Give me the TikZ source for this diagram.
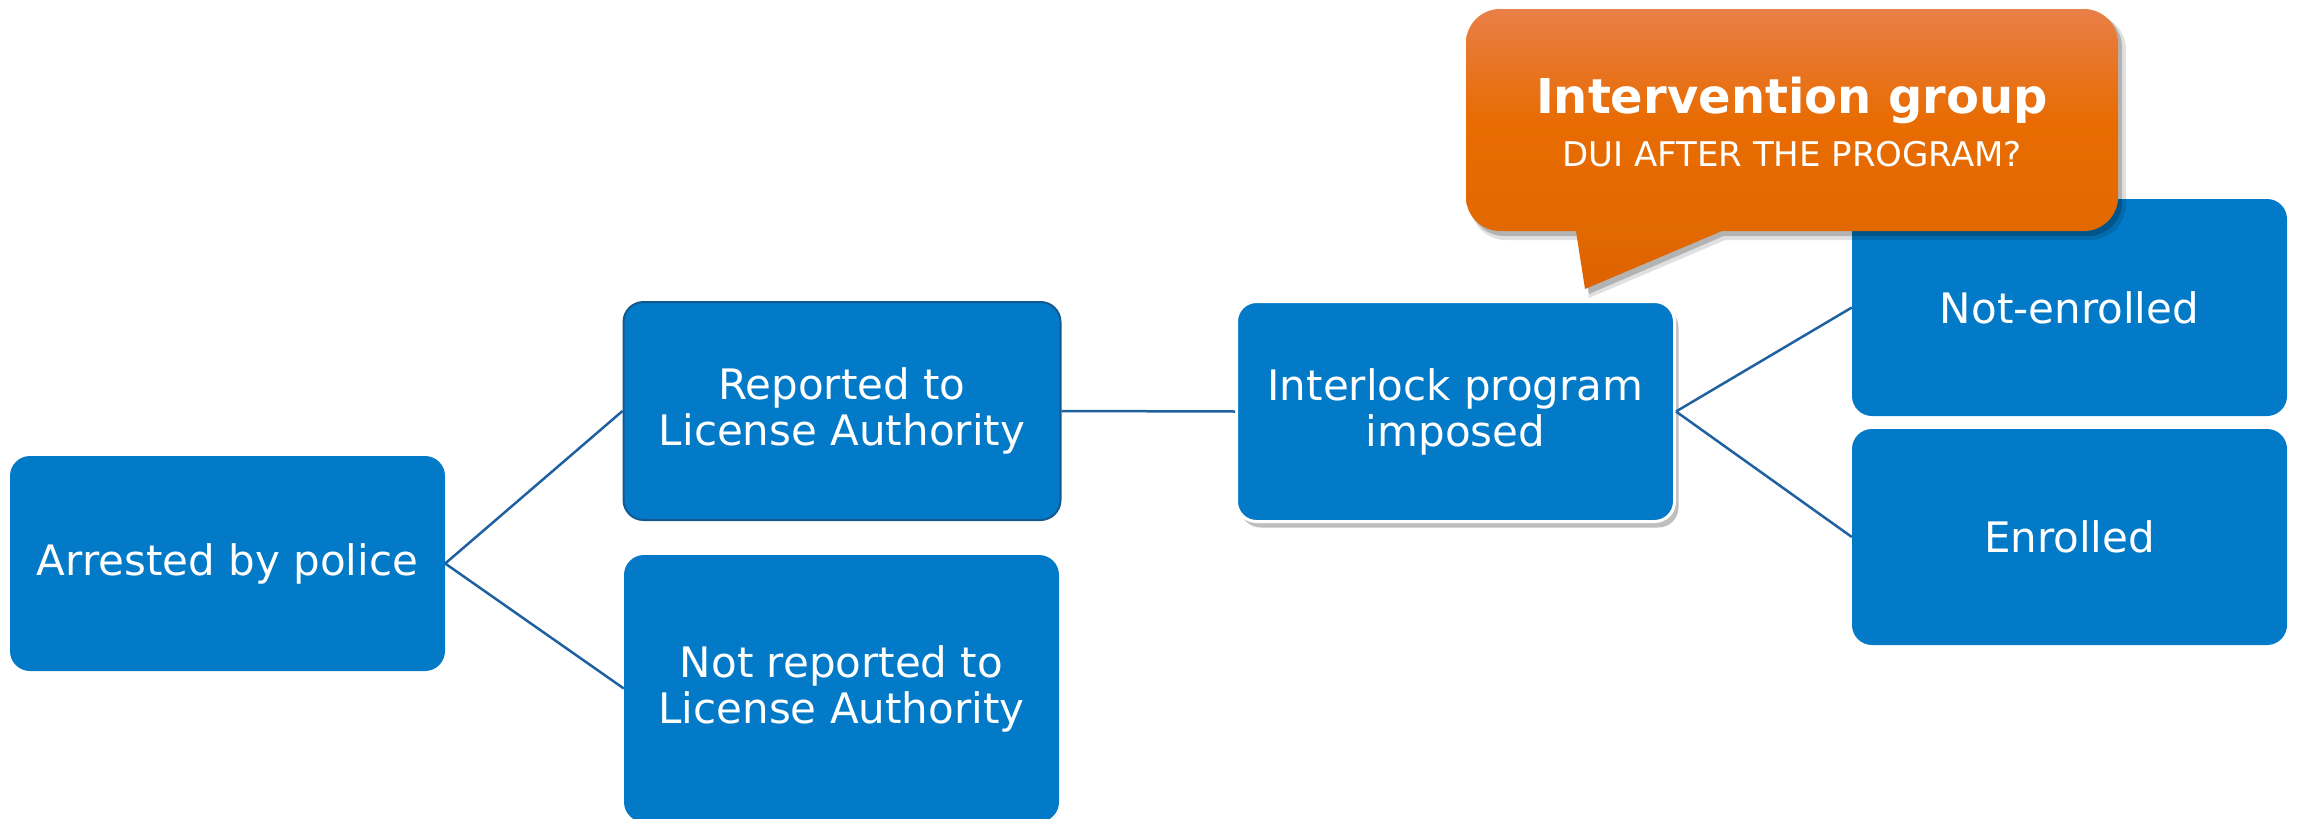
\documentclass[tikz,border=0pt]{standalone}
\usepackage{fontspec}
\setmainfont{DejaVu Sans}
\usetikzlibrary{shadows}
\definecolor{boxblue}{RGB}{2,122,199}
\definecolor{edgeblue}{RGB}{20,88,146}
\definecolor{lineblue}{RGB}{30,96,160}
\definecolor{orTop}{RGB}{233,128,72}
\definecolor{orHigh}{RGB}{232,118,40}
\definecolor{orMid}{RGB}{232,108,2}
\definecolor{orLow}{RGB}{226,104,0}
\definecolor{orBot}{RGB}{222,98,0}
\pgfdeclareverticalshading{callshade}{100bp}{color(0bp)=(orBot); color(25bp)=(orBot); color(35bp)=(orLow); color(55bp)=(orMid); color(66bp)=(orHigh); color(75bp)=(orTop); color(100bp)=(orTop)}
\begin{document}
\begin{tikzpicture}[x=1pt,y=-1pt,
  box/.style={fill=boxblue, rounded corners=20pt, text=white, align=center,
    font=\fontsize{42}{46}\selectfont, inner sep=0pt,
    minimum width=435pt, minimum height=216pt},
  link/.style={draw=lineblue, line width=2.5pt},
  calltext/.style={text=white, anchor=base, inner sep=0pt}]
\useasboundingbox (0,0) rectangle (2297,819);
\clip (0,0) rectangle (2297,819);

\node[box, minimum height=215pt] (arr) at (227.5,563.5) {Arrested by police};
\node[box, draw=edgeblue, line width=2pt, minimum width=437pt, minimum height=218pt] (rep) at (842,411) {Reported to\\License Authority};
\node[box, minimum height=267pt] (notrep) at (841.5,688.5) {Not reported to\\License Authority};
\node[box, draw=white, line width=3pt, minimum width=438pt, minimum height=220pt,
  drop shadow={shadow xshift=4pt, shadow yshift=-6pt, opacity=0.25, fill=black}] (inter) at (1455.5,411.5) {Interlock program\\imposed};
\node[box, minimum height=217pt] (notenr) at (2069.5,307.5) {Not-enrolled};
\node[box] (enr) at (2069.5,537) {Enrolled};

\draw[link] (arr.east) -- (rep.west);
\draw[link] (arr.east) -- (notrep.west);
\draw[link] (rep.east) -- (inter.west);
\draw[link] (inter.east) -- (notenr.west);
\draw[link] (inter.east) -- (enr.west);

% callout shadow
\fill[black, opacity=0.12] [rounded corners=36pt] (1797,14) -- (2126,14) -- (2126,240) -- (1470,240) -- (1470,14) -- cycle
  [sharp corners] (1578,232) -- (1744,232) -- (1589,298) -- cycle;
\fill[black, opacity=0.2] [rounded corners=34pt] (1797,13) -- (2122,13) -- (2122,236) -- (1470,236) -- (1470,13) -- cycle
  [sharp corners] (1580,229) -- (1740,229) -- (1589,294) -- cycle;
% callout
\shade[shading=callshade] [rounded corners=34pt] (1792,9) -- (2118,9) -- (2118,231) -- (1466,231) -- (1466,9) -- cycle
  [sharp corners] (1575,225) -- (1736,225) -- (1585,289) -- cycle;
\node[calltext, font=\bfseries\fontsize{48}{50}\selectfont] (title) at (1792,113) {Intervention group};
\node[calltext, font=\fontsize{34}{36}\selectfont] (sub) at (1792,166) {DUI AFTER THE PROGRAM?};
\end{tikzpicture}
\end{document}
